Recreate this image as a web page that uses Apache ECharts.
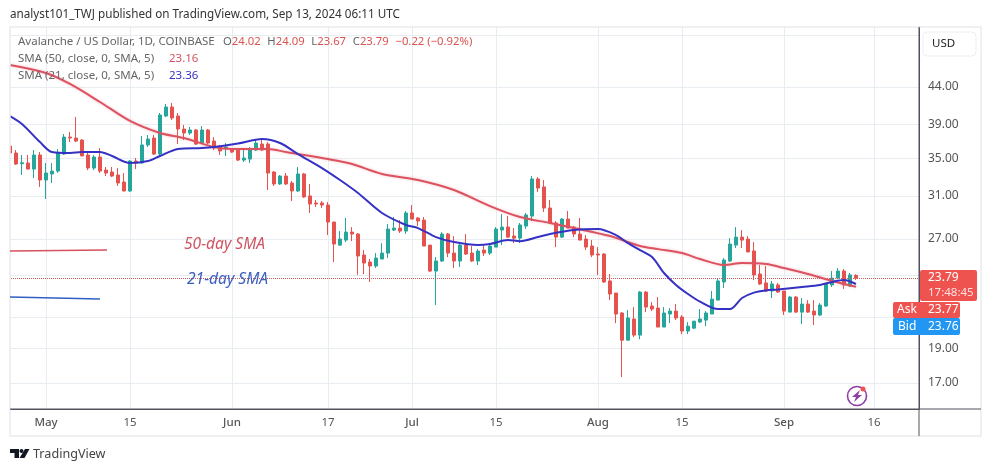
<!DOCTYPE html>
<html>
<head>
<meta charset="utf-8">
<style>html,body{margin:0;padding:0;background:#fff}#c{width:991px;height:472px}</style>
<script src="https://cdn.jsdelivr.net/npm/echarts@6/dist/echarts.min.js"></script>
</head>
<body>
<div id="c"></div>
<script>
// Daily candles from 25 Apr 2024, each [open, close, low, high]
const candles = [
[36.40,35.59,35.36,36.75],[35.59,34.35,34.24,35.93],[34.38,34.49,33.16,35.36],[34.46,33.80,33.75,35.36],[33.80,35.36,32.84,35.93],[35.36,32.63,31.91,35.70],
[32.63,33.37,30.70,34.46],[33.27,33.58,32.32,34.46],[33.58,35.59,33.37,36.05],[35.47,37.46,35.36,37.83],[37.46,37.34,36.86,38.08],[37.34,36.98,36.86,39.96],
[37.10,35.25,35.25,37.22],[35.36,33.91,33.69,35.59],[33.91,35.13,33.69,35.36],[35.13,33.58,33.37,36.16],[33.69,33.37,33.05,34.02],[33.48,33.05,32.94,34.02],
[33.16,32.32,32.01,33.91],[32.42,31.50,31.45,33.37],[31.50,34.68,31.40,34.79],[34.68,34.46,33.80,35.02],[34.46,36.52,34.40,37.58],[36.52,37.22,36.28,37.71],
[37.34,35.47,35.36,37.71],[35.47,40.21,35.25,40.47],[40.08,41.26,39.96,41.66],[41.26,39.83,39.57,41.80],[40.08,38.44,36.63,40.47],[38.44,37.95,37.10,38.94],
[37.95,38.32,37.71,38.69],[38.32,36.63,36.52,38.44],[36.75,38.32,36.63,38.81],[38.32,36.75,36.63,38.44],[36.98,36.16,35.93,37.46],[36.28,35.82,35.36,36.52],
[36.16,36.28,35.25,36.75],[36.05,35.70,35.59,36.16],[36.05,34.79,34.68,36.05],[34.79,35.02,34.57,36.16],[34.90,36.05,34.46,36.28],[35.93,36.75,35.82,37.10],
[36.63,35.93,35.82,37.10],[36.63,33.37,31.60,36.86],[33.48,32.22,32.01,33.58],[32.22,33.05,32.11,33.16],[33.05,32.22,32.11,33.37],[32.32,31.50,30.50,32.53],
[31.50,33.27,31.40,34.02],[33.27,30.90,30.80,33.37],[31.00,30.21,29.35,32.22],[30.31,30.21,29.92,30.60],[30.31,30.11,29.82,30.50],[30.11,28.51,27.34,30.40],
[28.51,26.56,25.07,28.51],[26.47,26.99,26.39,27.69],[26.90,27.60,26.73,28.88],[27.60,27.43,26.81,28.05],[27.43,25.56,24.05,27.52],[25.64,24.99,24.12,26.05],
[25.07,24.75,23.51,25.31],[24.75,25.39,24.59,25.80],[25.31,25.80,25.31,26.64],[25.80,27.87,25.39,28.33],[27.78,27.96,27.69,28.97],[27.96,27.69,27.52,28.69],
[27.69,29.35,27.43,29.54],[29.35,28.78,28.78,30.11],[28.88,28.60,28.14,28.97],[28.69,26.39,26.39,28.97],[26.47,24.35,24.27,26.47],[24.35,25.15,21.83,25.47],
[25.15,27.43,25.07,27.60],[27.43,25.80,25.47,27.52],[25.80,25.15,24.59,27.25],[25.15,26.47,24.67,26.56],[26.47,25.72,25.64,27.43],[25.80,25.15,25.07,26.39],
[25.15,25.97,24.83,26.13],[26.05,25.80,25.56,26.47],[25.80,26.39,25.64,26.56],[26.30,27.87,26.30,28.05],[27.78,28.05,26.47,29.25],[28.05,27.16,27.07,29.06],
[27.25,27.07,26.64,27.96],[27.07,28.24,26.64,28.42],[28.14,29.16,27.87,29.35],[29.06,32.74,28.60,33.05],[32.74,31.80,31.40,32.94],[31.91,29.82,29.44,32.63],
[29.82,28.42,28.33,30.60],[28.42,27.16,26.30,28.60],[27.16,28.78,27.07,28.88],[28.78,27.96,27.96,29.54],[28.05,27.43,27.16,28.14],[27.43,26.90,26.90,28.88],
[26.99,26.30,26.05,27.34],[26.39,25.64,25.47,26.90],[25.72,25.64,24.05,26.30],[25.72,23.51,23.44,25.80],[23.59,22.62,22.18,24.12],[22.69,21.21,20.60,22.69],
[21.28,19.50,17.32,21.34],[19.50,20.94,19.50,21.48],[20.87,19.82,19.69,21.69],[19.82,22.76,19.56,22.84],[22.76,21.69,21.34,22.84],[21.76,21.55,21.41,22.04],
[21.62,20.34,20.34,22.40],[20.34,21.28,20.34,21.69],[21.21,21.41,20.60,21.62],[21.41,20.94,20.80,21.90],[21.01,20.08,19.88,21.14],[20.08,20.40,19.88,20.67],
[20.27,20.73,20.21,20.73],[20.67,20.87,20.60,21.55],[20.80,21.28,20.40,21.41],[21.21,22.25,21.21,22.84],[22.18,23.59,22.18,23.81],[23.51,25.23,23.06,25.39],
[25.15,26.56,25.07,27.07],[26.47,27.16,26.22,28.05],[27.16,26.90,26.22,27.78],[26.99,25.89,25.89,27.25],[25.97,24.05,23.66,26.73],[24.12,23.36,23.29,24.83],
[23.44,22.84,22.76,24.75],[22.84,23.36,22.33,23.59],[23.29,22.76,22.69,23.44],[22.84,21.41,21.14,22.84],[21.34,22.40,21.34,22.47],[22.40,21.34,21.28,22.47],
[21.34,21.90,20.54,22.33],[21.90,21.34,21.28,22.18],[21.41,21.14,20.47,22.18],[21.14,21.83,21.07,21.97],[21.76,23.36,21.69,23.36],[23.29,23.81,23.14,24.35],
[23.81,24.35,23.81,24.59],[24.35,23.29,22.99,24.51],[23.21,24.05,23.14,24.20],[24.02,23.79,23.67,24.09]
];
// Readings of the two moving averages: day number since 25 Apr, and value
const sma50Days = [0,6,10,15,20,25,29,34,37,43,46,53,57,62,68,74,80,85,90,94,100,105,108,112,115,119,122,126,129,133,137,141];
const sma50Vals = [47.23,46.03,44.43,41.93,39.45,37.95,37.34,36.28,36.05,36.05,35.70,34.90,34.35,33.27,32.63,31.60,30.01,28.97,28.42,27.96,27.25,26.39,26.13,25.80,25.31,24.83,24.99,24.91,24.59,24.12,23.59,23.16];
const sma21Days = [0,2,5,7,10,12,15,17,20,23,25,28,32,34,38,42,45,48,52,55,58,62,66,68,71,74,78,80,83,85,88,90,94,98,101,103,105,107,109,111,113,115,118,120,122,124,126,128,132,135,137,139,141];
const sma21Vals = [40.08,39.07,36.86,35.70,35.59,35.70,35.70,35.25,34.46,34.68,35.25,36.05,36.16,36.28,36.70,37.22,36.75,35.47,33.91,32.63,31.30,29.35,28.24,27.96,27.16,26.73,26.47,26.56,26.90,26.81,27.16,27.43,27.78,27.87,27.34,26.64,26.05,25.47,24.20,23.29,22.62,22.07,21.55,21.55,22.33,22.72,22.88,22.95,23.14,23.29,23.51,23.66,23.36];
const tickDates = ['05-01','05-15','06-01','06-17','07-01','07-15','08-01','08-15','09-01','09-16'];
const tickLabels = ['May','15','Jun','17','Jul','15','Aug','15','Sep','16'];
const gridPrices = [52,44,39,35,31,27,24,21,19,17];
const labelPrices = [44,39,35,31,27,19,17];
const lastPrice = 23.79;

const categories = [];
for (let d = new Date(Date.UTC(2024,3,25)); categories.length < 152; d.setUTCDate(d.getUTCDate()+1)) {
  categories.push(d.toISOString().slice(5,10));
}
const tickSet = {};
tickDates.forEach((t,i)=>{tickSet[t]=tickLabels[i];});
const pairs = (a,b)=>a.map((x,i)=>[x,b[i]]);

const FONT = '"Noto Sans", sans-serif';
const GRID = '#e7edf0';
const AXIS = '#50535e';
const UP = '#26a69a', DOWN = '#e5534f';
const txt = (x,y,text,size,fill,extra)=>({type:'text',x,y,z:50,silent:true,style:Object.assign({text,font:`${size}px ${FONT}`,fill,verticalAlign:'middle'},extra||{})});
const rect = (x,y,w,h,fill,r,z)=>({type:'rect',z:z||45,silent:true,shape:{x,y,width:w,height:h,r:r||0},style:{fill}});
const seg = (x1,y1,x2,y2,stroke,w,z)=>({type:'line',z:z||40,silent:true,shape:{x1,y1,x2,y2},style:{stroke,lineWidth:w}});

const chart = echarts.init(document.getElementById('c'),null,{renderer:'canvas'});
chart.setOption({
  animation:false,
  backgroundColor:'#fff',
  grid:{left:7,top:27,width:912,height:382,containLabel:false},
  xAxis:{
    type:'category',data:categories,boundaryGap:true,
    axisLine:{show:true,lineStyle:{color:AXIS,width:1}},
    axisTick:{show:false,alignWithLabel:true},
    axisLabel:{
      interval:(i,v)=>v in tickSet,margin:8,
      formatter:v=>{const s=tickSet[v]||'';return /[a-z]/i.test(s)?`{m|${s}}`:`{n|${s}}`;},
      rich:{m:{color:'#555',fontSize:11.5,fontWeight:500,fontFamily:FONT},n:{color:'#555',fontSize:11.5,fontFamily:FONT}}
    },
    splitLine:{show:true,alignWithLabel:true,interval:(i,v)=>v in tickSet,lineStyle:{color:GRID,width:1}}
  },
  yAxis:{
    type:'log',logBase:Math.E,position:'right',min:15.63,max:53.36,
    axisLine:{show:true,onZero:false,lineStyle:{color:AXIS,width:1}},
    axisTick:{show:false,customValues:gridPrices},
    axisLabel:{customValues:labelPrices,margin:9,color:'#555',fontSize:12,fontFamily:FONT,padding:[2,0,0,0],formatter:v=>Number(v).toFixed(2)},
    splitLine:{show:true,customValues:gridPrices,lineStyle:{color:GRID,width:1}}
  },
  series:[
    {type:'candlestick',data:candles,barWidth:4,z:3,
     itemStyle:{color:UP,color0:DOWN,borderColor:UP,borderColor0:DOWN,borderWidth:1},
     markLine:{silent:true,symbol:'none',label:{show:false},animation:false,
       data:[{yAxis:lastPrice}],lineStyle:{type:'dotted',color:'#c8605c',width:1}}},
    {type:'line',name:'SMA 50',data:pairs(sma50Days,sma50Vals),smooth:0.3,symbol:'none',z:5,
     lineStyle:{color:'#dc5260',width:2,shadowColor:'rgba(220,82,96,0.35)',shadowBlur:3}},
    {type:'line',name:'SMA 21',data:pairs(sma21Days,sma21Vals),smooth:0.3,symbol:'none',z:6,
     lineStyle:{color:'#3531c4',width:2}}
  ],
  graphic:[
    rect(0,20,10,420,'#fff',0,30),
    {type:'rect',z:31,silent:true,shape:{x:10,y:27,width:971,height:409},style:{fill:null,stroke:'#e9ecee',lineWidth:1.5}},
    seg(919,27,919,436,AXIS,1),
    seg(10,409,981,409,AXIS,1),
    // hand-drawn annotations
    seg(10,251,107,250,'#d6505e',1.6),
    seg(10,297,100,299,'#3060c4',1.6),
    txt(184,245,'50-day SMA',15.6,'#cf5563',{font:`italic 15.6px ${FONT}`}),
    txt(187,280,'21-day SMA',15.6,'#3d5fbf',{font:`italic 15.6px ${FONT}`}),
    // header
    txt(10,15,'analyst101_TWJ published on TradingView.com, Sep 13, 2024 06:11 UTC',11.7,'#333'),
    txt(18,42,'Avalanche / US Dollar, 1D, COINBASE',11.5,'#666'),
    {type:'text',x:223,y:42,z:50,silent:true,style:{
      text:'{g|O}{r|24.02}  {g|H}{r|24.09}  {g|L}{r|23.67}  {g|C}{r|23.79}  {r|\u22120.22 (\u22120.92%)}',
      verticalAlign:'middle',
      rich:{g:{fill:'#666',font:`11.3px ${FONT}`},r:{fill:'#d9534f',font:`11.3px ${FONT}`}}}},
    txt(18,59,'SMA (50, close, 0, SMA, 5)',11.5,'#666'),
    txt(169,59,'23.16',11.5,'#d6505e'),
    txt(18,76,'SMA (21, close, 0, SMA, 5)',11.5,'#666'),
    txt(169,76,'23.36',11.5,'#3531c4'),
    // currency button
    {type:'rect',z:45,silent:true,shape:{x:923,y:32,width:53,height:24,r:4},style:{fill:'#fff',stroke:'#eceff1',lineWidth:1}},
    txt(932,44,'USD',11.5,'#222'),
    // last price, ask and bid tags
    rect(920,270,57,31,'#ef5350',2),
    txt(928,278,'23.79',12,'#fff'),
    txt(928,293,'17:48:45',11.5,'#fde0df'),
    rect(893,302,67,16,'#ef5350',2),
    txt(897,310,'Ask',12,'#fff'),
    txt(928,310,'23.77',12,'#fff'),
    rect(893,318,67,17,'#2196f3',2),
    txt(898,327,'Bid',12,'#fff'),
    txt(928,327,'23.76',12,'#fff'),
    // purple event icon
    {type:'circle',z:45,silent:true,shape:{cx:857,cy:396,r:9.5},style:{fill:'#fff',stroke:'#8e3ea8',lineWidth:1.6}},
    {type:'polygon',z:46,silent:true,shape:{points:[[860,390],[852,397],[856,397],[854,402],[862,395],[858,395]]},style:{fill:'#8e3ea8'}},
    {type:'circle',z:47,silent:true,shape:{cx:863,cy:389,r:2.5},style:{fill:'#ef5350'}},
    // TradingView logo
    {type:'polygon',z:46,silent:true,shape:{points:[[10,449],[19,449],[19,458],[14.5,458],[14.5,453],[10,453]]},style:{fill:'#131722'}},
    {type:'circle',z:46,silent:true,shape:{cx:21.5,cy:451,r:2},style:{fill:'#131722'}},
    {type:'polygon',z:46,silent:true,shape:{points:[[25,449],[29.5,449],[24.5,458],[19.5,458]]},style:{fill:'#131722'}},
    txt(33,454,'TradingView',12.6,'#444')
  ]
});
</script>
</body>
</html>
